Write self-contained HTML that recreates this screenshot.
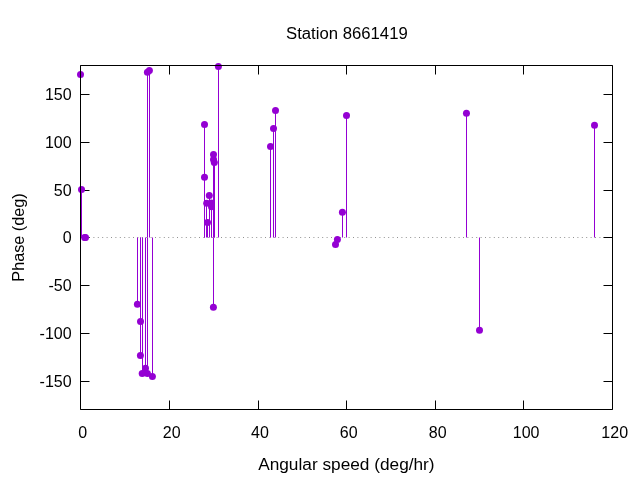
<!DOCTYPE html>
<html><head><meta charset="utf-8"><style>
html,body{margin:0;padding:0;background:#fff;}
svg{display:block;will-change:transform;}
text{font-family:"Liberation Sans",sans-serif;font-size:16px;fill:#000;}
</style></head><body>
<svg width="640" height="480" viewBox="0 0 640 480">
<rect width="640" height="480" fill="#fff"/>
<path d="M80.2 237.5H613" stroke="#929292" stroke-width="1" stroke-dasharray="1 3.4" fill="none"/>
<path d="M80.5 94.5H89.5M612.5 94.5H603.5M80.5 142.5H89.5M612.5 142.5H603.5M80.5 190.5H89.5M612.5 190.5H603.5M80.5 237.5H89.5M612.5 237.5H603.5M80.5 285.5H89.5M612.5 285.5H603.5M80.5 333.5H89.5M612.5 333.5H603.5M80.5 381.5H89.5M612.5 381.5H603.5M80.5 409.5V400.5M80.5 65.5V74.5M169.5 409.5V400.5M169.5 65.5V74.5M258.5 409.5V400.5M258.5 65.5V74.5M346.5 409.5V400.5M346.5 65.5V74.5M435.5 409.5V400.5M435.5 65.5V74.5M523.5 409.5V400.5M523.5 65.5V74.5M612.5 409.5V400.5M612.5 65.5V74.5" fill="none" stroke="#000" stroke-width="1"/>
<g stroke="#9400d3" stroke-width="1"><line x1="80.5" y1="237.5" x2="80.5" y2="74.4"/><line x1="81.5" y1="237.5" x2="81.5" y2="189.5"/><line x1="84.5" y1="237.5" x2="84.5" y2="237.5"/><line x1="85.5" y1="237.5" x2="85.5" y2="237.5"/><line x1="137.5" y1="237.5" x2="137.5" y2="304.3"/><line x1="140.5" y1="237.5" x2="140.5" y2="321.5"/><line x1="140.5" y1="237.5" x2="140.5" y2="355.4"/><line x1="142.5" y1="237.5" x2="142.5" y2="373.4"/><line x1="145.5" y1="237.5" x2="145.5" y2="368.3"/><line x1="147.5" y1="237.5" x2="147.5" y2="373.5"/><line x1="147.5" y1="237.5" x2="147.5" y2="72.2"/><line x1="149.5" y1="237.5" x2="149.5" y2="70.6"/><line x1="152.5" y1="237.5" x2="152.5" y2="376.4"/><line x1="204.5" y1="237.5" x2="204.5" y2="124.4"/><line x1="204.5" y1="237.5" x2="204.5" y2="177.3"/><line x1="206.5" y1="237.5" x2="206.5" y2="203.25"/><line x1="207.5" y1="237.5" x2="207.5" y2="222.5"/><line x1="209.5" y1="237.5" x2="209.5" y2="195.6"/><line x1="211.5" y1="237.5" x2="211.5" y2="203.0"/><line x1="211.5" y1="237.5" x2="211.5" y2="206.7"/><line x1="213.5" y1="237.5" x2="213.5" y2="154.5"/><line x1="214.5" y1="237.5" x2="214.5" y2="159.5"/><line x1="214.5" y1="237.5" x2="214.5" y2="162.4"/><line x1="213.5" y1="237.5" x2="213.5" y2="307.3"/><line x1="218.5" y1="237.5" x2="218.5" y2="66.6"/><line x1="270.5" y1="237.5" x2="270.5" y2="146.5"/><line x1="273.5" y1="237.5" x2="273.5" y2="128.5"/><line x1="275.5" y1="237.5" x2="275.5" y2="110.5"/><line x1="335.5" y1="237.5" x2="335.5" y2="244.4"/><line x1="337.5" y1="237.5" x2="337.5" y2="239.5"/><line x1="342.5" y1="237.5" x2="342.5" y2="212.3"/><line x1="346.5" y1="237.5" x2="346.5" y2="115.4"/><line x1="466.5" y1="237.5" x2="466.5" y2="113.35"/><line x1="479.5" y1="237.5" x2="479.5" y2="330.3"/><line x1="594.5" y1="237.5" x2="594.5" y2="125.3"/></g>
<g fill="#9400d3"><circle cx="80.5" cy="74.4" r="3.5"/><circle cx="81.5" cy="189.5" r="3.5"/><circle cx="84.6" cy="237.5" r="3.5"/><circle cx="85.5" cy="237.5" r="3.5"/><circle cx="137.4" cy="304.3" r="3.5"/><circle cx="140.5" cy="321.5" r="3.5"/><circle cx="140.4" cy="355.4" r="3.5"/><circle cx="142.2" cy="373.4" r="3.5"/><circle cx="145.5" cy="368.3" r="3.5"/><circle cx="147.4" cy="373.5" r="3.5"/><circle cx="147.4" cy="72.2" r="3.5"/><circle cx="149.4" cy="70.6" r="3.5"/><circle cx="152.4" cy="376.4" r="3.5"/><circle cx="204.5" cy="124.4" r="3.5"/><circle cx="204.5" cy="177.3" r="3.5"/><circle cx="206.7" cy="203.25" r="3.5"/><circle cx="207.5" cy="222.5" r="3.5"/><circle cx="209.3" cy="195.6" r="3.5"/><circle cx="211.3" cy="203.0" r="3.5"/><circle cx="211.5" cy="206.7" r="3.5"/><circle cx="213.5" cy="154.5" r="3.5"/><circle cx="213.5" cy="159.5" r="3.5"/><circle cx="214.3" cy="162.4" r="3.5"/><circle cx="213.4" cy="307.3" r="3.5"/><circle cx="218.4" cy="66.6" r="3.5"/><circle cx="270.5" cy="146.5" r="3.5"/><circle cx="273.5" cy="128.5" r="3.5"/><circle cx="275.5" cy="110.5" r="3.5"/><circle cx="335.5" cy="244.4" r="3.5"/><circle cx="337.4" cy="239.5" r="3.5"/><circle cx="342.4" cy="212.3" r="3.5"/><circle cx="346.5" cy="115.4" r="3.5"/><circle cx="466.45" cy="113.35" r="3.5"/><circle cx="479.5" cy="330.3" r="3.5"/><circle cx="594.5" cy="125.3" r="3.5"/></g>
<path d="M80.5 65.5H612.5V409.5H80.5Z" fill="none" stroke="#000" stroke-width="1"/>
<g><text x="71.6" y="100.3" text-anchor="end">150</text><text x="71.6" y="148.3" text-anchor="end">100</text><text x="71.6" y="196.3" text-anchor="end">50</text><text x="71.6" y="243.3" text-anchor="end">0</text><text x="71.6" y="291.3" text-anchor="end">-50</text><text x="71.6" y="339.3" text-anchor="end">-100</text><text x="71.6" y="387.3" text-anchor="end">-150</text></g>
<g><text x="82.7" y="437.6" text-anchor="middle">0</text><text x="171.7" y="437.6" text-anchor="middle">20</text><text x="260.0" y="437.6" text-anchor="middle">40</text><text x="348.7" y="437.6" text-anchor="middle">60</text><text x="437.7" y="437.6" text-anchor="middle">80</text><text x="526.1" y="437.6" text-anchor="middle">100</text><text x="614.7" y="437.6" text-anchor="middle">120</text></g>
<text x="346.9" y="38.7" text-anchor="middle" textLength="121.7" lengthAdjust="spacingAndGlyphs">Station 8661419</text>
<text x="346.4" y="470.3" text-anchor="middle" textLength="176.4" lengthAdjust="spacingAndGlyphs">Angular speed (deg/hr)</text>
<text transform="translate(24.2 237.5) rotate(-90)" text-anchor="middle" textLength="88.4" lengthAdjust="spacingAndGlyphs">Phase (deg)</text>
</svg>
</body></html>
